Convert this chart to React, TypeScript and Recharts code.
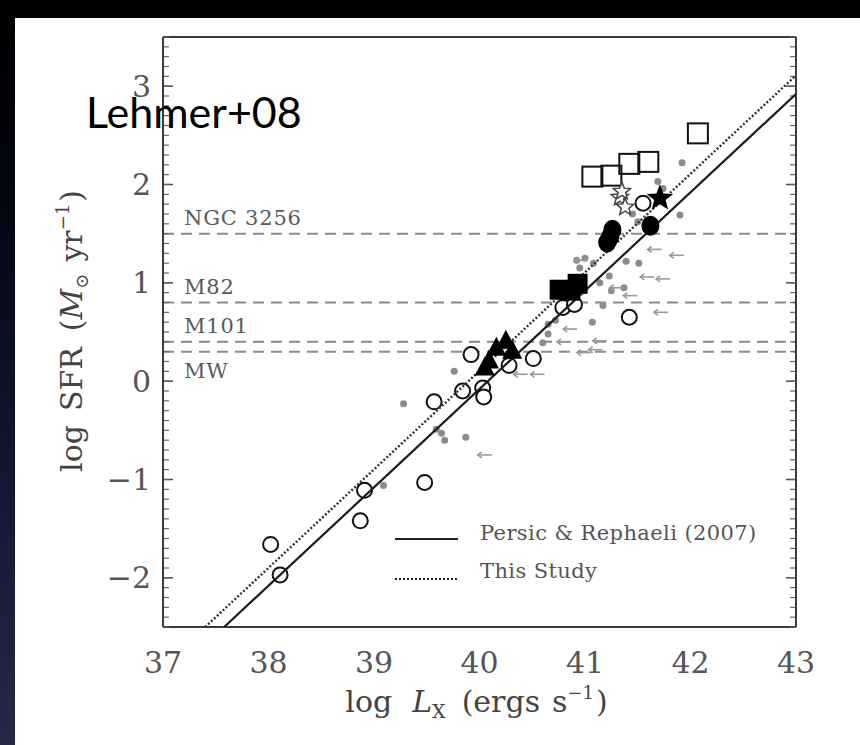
import React from 'react';
import { ScatterChart, Scatter, XAxis, YAxis, ReferenceLine, Legend } from 'recharts';

// ---------- axes ----------
const xTicks = [37, 38, 39, 40, 41, 42, 43];
const yTicks = [-2, -1, 0, 1, 2, 3];
const xDomain: [number, number] = [37, 43];
const yDomain: [number, number] = [-2.5, 3.5];

const tenths = (lo: number, hi: number) => {
  const out: number[] = [];
  for (let v = Math.round(lo * 10); v <= Math.round(hi * 10); v++) out.push(v / 10);
  return out;
};
const xMinorTicks = tenths(37, 43);
const yMinorTicks = tenths(-2.5, 3.5);

// ---------- reference galaxies (log SFR) ----------
const galaxyNames = ['NGC 3256', 'M82', 'M101', 'MW'];
const galaxySFR = [1.5, 0.8, 0.4, 0.3];

// ---------- fit lines ----------
const fitNames = ['Persic & Rephaeli (2007)', 'This Study'];
const persicLine: [number, number][] = [[37.58, -2.5], [43, 2.92]];
const thisStudyLine: [number, number][] = [[37.4, -2.5], [43, 3.11]];

// ---------- samples: [log Lx, log SFR] ----------
const openCircles: [number, number][] = [
  [38.02, -1.66], [38.11, -1.97], [38.87, -1.42], [38.91, -1.11], [39.48, -1.03],
  [39.57, -0.21], [39.84, -0.1], [39.92, 0.27], [40.03, -0.07], [40.04, -0.16],
  [40.28, 0.16], [40.51, 0.23], [40.79, 0.75], [40.9, 0.78], [41.42, 0.65], [41.55, 1.81],
];
const openSquares: [number, number][] = [
  [41.07, 2.08], [41.25, 2.09], [41.42, 2.21], [41.6, 2.23], [42.07, 2.52],
];
const filledSquares: [number, number][] = [[40.76, 0.93], [40.86, 0.92], [40.93, 0.99]];
const filledCircles: [number, number][] = [[41.21, 1.41], [41.24, 1.47], [41.26, 1.54], [41.62, 1.58]];
const filledTriangles: [number, number][] = [
  [40.05, 0.13], [40.09, 0.2], [40.16, 0.33], [40.25, 0.4], [40.31, 0.3],
];
const filledStars: [number, number][] = [[41.71, 1.86]];
const openStars: [number, number][] = [[41.33, 1.87], [41.38, 1.77], [41.35, 1.93]];
const grayDots: [number, number][] = [
  [39.28, -0.23], [39.76, 0.1], [39.59, -0.49], [39.64, -0.53], [39.67, -0.6], [39.87, -0.57],
  [39.09, -1.06], [40.6, 0.39], [40.65, 0.48], [40.65, 0.58], [41.07, 0.6], [41.17, 0.77],
  [41.25, 0.92], [41.14, 1.0], [41.37, 0.95], [41.23, 1.07], [41.39, 1.22], [41.51, 1.2],
  [40.92, 1.23], [41.0, 1.25], [41.08, 1.2], [41.9, 1.69], [41.92, 2.22], [41.69, 2.03],
  [41.74, 1.96], [41.5, 1.62], [41.45, 1.7], [40.72, 0.62], [40.95, 1.15],
];
const upperLimits: [number, number][] = [
  [40.05, -0.75], [40.39, 0.07], [40.55, 0.07], [40.99, 0.29], [41.1, 0.32], [40.86, 0.53],
  [41.72, 0.7], [41.87, 1.28], [41.66, 1.34], [41.59, 1.06], [41.74, 1.04], [40.96, 1.23],
  [41.43, 0.87], [41.14, 0.41], [41.3, 0.95], [40.8, 0.4],
];

const pts = (a: [number, number][]) => a.map(([x, y]) => ({ x, y }));

// ---------- styles ----------
const SERIF = 'DejaVu Serif';
const TICK_COLOR = '#555';
const FRAME = '#3a3a3a';
const fitDash: Record<string, string | undefined> = {
  [fitNames[0]]: undefined,
  [fitNames[1]]: '2 2',
};

// ---------- shapes ----------
const starPath = (cx: number, cy: number, R: number, r: number) => {
  const p: string[] = [];
  for (let i = 0; i < 10; i++) {
    const a = -Math.PI / 2 + (i * Math.PI) / 5;
    const rad = i % 2 === 0 ? R : r;
    p.push(`${cx + rad * Math.cos(a)},${cy + rad * Math.sin(a)}`);
  }
  return p.join(' ');
};
const OpenCircle = (p: any) => <circle cx={p.cx} cy={p.cy} r={7.5} fill="#fff" stroke="#111" strokeWidth={2} />;
const OpenSquare = (p: any) => <rect x={p.cx - 10} y={p.cy - 10} width={20} height={20} fill="none" stroke="#111" strokeWidth={2} />;
const FilledSquare = (p: any) => <rect x={p.cx - 10} y={p.cy - 10} width={20} height={20} fill="#000" />;
const FilledCircle = (p: any) => <ellipse cx={p.cx} cy={p.cy} rx={9} ry={10} fill="#000" />;
const FilledTriangle = (p: any) => (
  <polygon points={`${p.cx},${p.cy - 12} ${p.cx - 10},${p.cy + 7} ${p.cx + 10},${p.cy + 7}`} fill="#000" />
);
const FilledStar = (p: any) => <polygon points={starPath(p.cx, p.cy, 14, 6)} fill="#000" />;
const OpenStar = (p: any) => <polygon points={starPath(p.cx, p.cy, 9, 4)} fill="#fff" stroke="#444" strokeWidth={1.5} />;
const GrayDot = (p: any) => <circle cx={p.cx} cy={p.cy} r={3.5} fill="#8c8c8c" />;
const Arrow = (p: any) => (
  <g stroke="#9a9a9a" strokeWidth={1.6} fill="none">
    <line x1={p.cx + 7} y1={p.cy} x2={p.cx - 7} y2={p.cy} />
    <polyline points={`${p.cx - 3},${p.cy - 3} ${p.cx - 7},${p.cy} ${p.cx - 3},${p.cy + 3}`} />
  </g>
);
const NoShape = () => <g />;
const EmptyTick = () => <g />;

// ---------- labels ----------
const GalaxyLabel = (props: any) => {
  const { viewBox, text, below } = props;
  const y = below ? viewBox.y + 26 : viewBox.y - 9;
  return (
    <text x={viewBox.x + 21} y={y} fontFamily={SERIF} fontSize={21} fill="#5a5a5a" letterSpacing={0.8}>
      {text}
    </text>
  );
};

const XTitle = (props: any) => {
  const vb = props.viewBox || { x: 163, y: 627, width: 634 };
  const cx = vb.x + vb.width / 2 - 3;
  return (
    <text x={cx} y={vb.y + 85} textAnchor="middle" fontFamily={SERIF} fontSize={30} fill="#444">
      <tspan>log</tspan>
      <tspan dx={20} fontStyle="italic">L</tspan>
      <tspan fontSize={19} dy={6}>X</tspan>
      <tspan dy={-6} dx={16}>(ergs</tspan>
      <tspan dx={12}>s</tspan>
      <tspan fontSize={18} dy={-13}>−1</tspan>
      <tspan dy={13} dx={2}>)</tspan>
    </text>
  );
};

const YTitle = (props: any) => {
  const vb = props.viewBox || { x: 63, y: 37, width: 100, height: 590 };
  const bx = 82;
  const cy = vb.y + vb.height / 2 - 1;
  return (
    <text
      x={bx}
      y={cy}
      transform={`rotate(-90 ${bx} ${cy})`}
      textAnchor="middle"
      fontFamily={SERIF}
      fontSize={30}
      fill="#444"
    >
      <tspan>log</tspan>
      <tspan dx={14}>SFR</tspan>
      <tspan dx={16}>(</tspan>
      <tspan fontStyle="italic">M</tspan>
      <tspan fontSize={18} dy={6}>⊙</tspan>
      <tspan dy={-6} dx={12}>yr</tspan>
      <tspan fontSize={18} dy={-13}>−1</tspan>
      <tspan dy={13} dx={2}>)</tspan>
    </text>
  );
};

const LegendBox = (props: any) => {
  const payload = (props.payload || []) as any[];
  return (
    <svg width={420} height={90} style={{ display: 'block' }}>
      {payload.map((e, i) => {
        const ly = 22 + i * 40;
        return (
          <g key={String(e.value)}>
            <line x1={3} x2={66} y1={ly} y2={ly} stroke="#222" strokeWidth={2.2} strokeDasharray={fitDash[e.value]} />
            <text x={88} y={23 + i * 38} fontFamily={SERIF} fontSize={21} fill="#555" letterSpacing={0.4}>
              {e.value}
            </text>
          </g>
        );
      })}
    </svg>
  );
};

const minusFmt = (v: number) => (v < 0 ? `−${Math.abs(v)}` : `${v}`);

export default function App() {
  const tickProps = { fill: TICK_COLOR, fontSize: 30, fontFamily: SERIF };
  const major = { stroke: '#4a4a4a', strokeWidth: 1.5 };
  const minorLine = { stroke: '#666', strokeWidth: 1.2 };
  const frame = { stroke: FRAME, strokeWidth: 2 };
  return (
    <div
      style={{
        position: 'fixed',
        left: 0,
        top: 0,
        width: 860,
        height: 745,
        background: 'linear-gradient(180deg, #000 0%, #03050f 25%, #121833 65%, #232a47 100%)',
        overflow: 'hidden',
      }}
    >
      <div style={{ position: 'absolute', left: 15, top: 18, right: 0, bottom: 0, background: '#fff' }} />
      <div style={{ position: 'absolute', left: 0, top: 0 }}>
        <ScatterChart width={860} height={745} margin={{ top: 37, right: 64, bottom: 18, left: 63 }}>
          <XAxis
            xAxisId="m"
            dataKey="x"
            type="number"
            domain={xDomain}
            ticks={xTicks}
            allowDataOverflow
            interval={0}
            tickLine={false}
            axisLine={false}
            tickSize={0}
            tickMargin={25}
            height={100}
            tick={tickProps}
            label={<XTitle />}
          />
          <YAxis
            yAxisId="m"
            dataKey="y"
            type="number"
            domain={yDomain}
            ticks={yTicks}
            allowDataOverflow
            interval={0}
            tickLine={false}
            axisLine={false}
            tickSize={0}
            tickMargin={12}
            width={100}
            tick={tickProps}
            tickFormatter={minusFmt}
            label={<YTitle />}
          />
          {/* inward ticks & frame */}
          <XAxis xAxisId="bMaj" orientation="bottom" mirror type="number" domain={xDomain} ticks={xTicks} allowDataOverflow interval={0} tick={EmptyTick} tickSize={10} tickLine={major} axisLine={frame} height={1} />
          <XAxis xAxisId="bMin" orientation="bottom" mirror type="number" domain={xDomain} ticks={xMinorTicks} allowDataOverflow interval={0} tick={EmptyTick} tickSize={5} tickLine={minorLine} axisLine={false} height={1} />
          <XAxis xAxisId="tMaj" orientation="top" mirror type="number" domain={xDomain} ticks={xTicks} allowDataOverflow interval={0} tick={EmptyTick} tickSize={10} tickLine={major} axisLine={frame} height={1} />
          <XAxis xAxisId="tMin" orientation="top" mirror type="number" domain={xDomain} ticks={xMinorTicks} allowDataOverflow interval={0} tick={EmptyTick} tickSize={5} tickLine={minorLine} axisLine={false} height={1} />
          <YAxis yAxisId="lMaj" orientation="left" mirror type="number" domain={yDomain} ticks={yTicks} allowDataOverflow interval={0} tick={EmptyTick} tickSize={10} tickLine={major} axisLine={frame} width={1} />
          <YAxis yAxisId="lMin" orientation="left" mirror type="number" domain={yDomain} ticks={yMinorTicks} allowDataOverflow interval={0} tick={EmptyTick} tickSize={5} tickLine={minorLine} axisLine={false} width={1} />
          <YAxis yAxisId="rMaj" orientation="right" mirror type="number" domain={yDomain} ticks={yTicks} allowDataOverflow interval={0} tick={EmptyTick} tickSize={10} tickLine={major} axisLine={frame} width={1} />
          <YAxis yAxisId="rMin" orientation="right" mirror type="number" domain={yDomain} ticks={yMinorTicks} allowDataOverflow interval={0} tick={EmptyTick} tickSize={5} tickLine={minorLine} axisLine={false} width={1} />

          {galaxySFR.map((v, i) => (
            <ReferenceLine
              key={galaxyNames[i]}
              xAxisId="m"
              yAxisId="m"
              y={v}
              stroke="#8a8a8a"
              strokeWidth={2}
              strokeDasharray="11 7"
              label={<GalaxyLabel text={galaxyNames[i]} below={i === galaxySFR.length - 1} />}
            />
          ))}

          <Scatter xAxisId="m" yAxisId="m" data={pts(grayDots)} shape={GrayDot} legendType="none" isAnimationActive={false} />
          <Scatter xAxisId="m" yAxisId="m" data={pts(upperLimits)} shape={Arrow} legendType="none" isAnimationActive={false} />
          <Scatter xAxisId="m" yAxisId="m" data={pts(openCircles)} shape={OpenCircle} legendType="none" isAnimationActive={false} />
          <Scatter xAxisId="m" yAxisId="m" data={pts(openSquares)} shape={OpenSquare} legendType="none" isAnimationActive={false} />
          <Scatter xAxisId="m" yAxisId="m" data={pts(openStars)} shape={OpenStar} legendType="none" isAnimationActive={false} />

          <Scatter
            name={fitNames[0]}
            xAxisId="m"
            yAxisId="m"
            data={pts(persicLine)}
            line={{ stroke: '#1a1a1a', strokeWidth: 2.2 }}
            lineType="joint"
            shape={NoShape}
            legendType="line"
            isAnimationActive={false}
          />
          <Scatter
            name={fitNames[1]}
            xAxisId="m"
            yAxisId="m"
            data={pts(thisStudyLine)}
            line={{ stroke: '#333', strokeWidth: 2.4, strokeDasharray: '2 2' }}
            lineType="joint"
            shape={NoShape}
            legendType="line"
            isAnimationActive={false}
          />

          <Scatter xAxisId="m" yAxisId="m" data={pts(filledSquares)} shape={FilledSquare} legendType="none" isAnimationActive={false} />
          <Scatter xAxisId="m" yAxisId="m" data={pts(filledCircles)} shape={FilledCircle} legendType="none" isAnimationActive={false} />
          <Scatter xAxisId="m" yAxisId="m" data={pts(filledTriangles)} shape={FilledTriangle} legendType="none" isAnimationActive={false} />
          <Scatter xAxisId="m" yAxisId="m" data={pts(filledStars)} shape={FilledStar} legendType="none" isAnimationActive={false} />

          <Legend
            layout="horizontal"
            verticalAlign="middle"
            align="center"
            content={<LegendBox />}
            wrapperStyle={{ position: 'absolute', left: 392, top: 517, width: 420, height: 90 }}
          />
        </ScatterChart>
      </div>
      <svg width={860} height={745} style={{ position: 'absolute', left: 0, top: 0, pointerEvents: 'none' }}>
        <text x={86} y={128} fontFamily="Lato" fontSize={43} fill="#000">
          Lehmer+08
        </text>
      </svg>
    </div>
  );
}
